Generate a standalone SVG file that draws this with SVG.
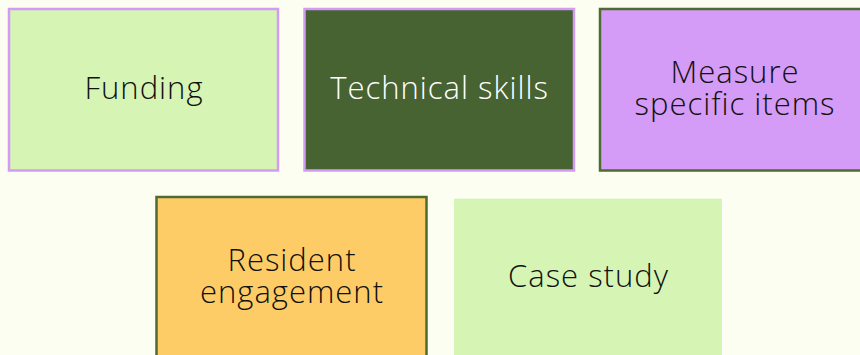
<svg xmlns="http://www.w3.org/2000/svg" width="860" height="355" viewBox="0 0 860 355">
  <style>
    .box { stroke-width: 2.5; }
    .lbl { font-family: "Open Sans", "Liberation Sans", Arial, sans-serif; font-weight: 300; font-size: 31px; letter-spacing: 1px; text-anchor: middle; fill: #111111; }
    .light { fill: #ffffff; }
  </style>
  <rect x="0" y="0" width="860" height="355" fill="#fbfef1"/>

  <g id="funding">
    <rect class="box" x="9" y="9" width="269" height="161.5" fill="#d6f5b4" stroke="#d49bf5"/>
    <text class="lbl" x="144" y="99">Funding</text>
  </g>

  <g id="technical-skills">
    <rect class="box" x="304.5" y="9" width="269.5" height="161.5" fill="#476332" stroke="#d49bf5"/>
    <text class="lbl light" x="439.5" y="99">Technical skills</text>
  </g>

  <g id="measure-specific-items">
    <rect class="box" x="600" y="9" width="270" height="161.5" fill="#d49bf7" stroke="#4e6b34"/>
    <text class="lbl"><tspan x="735" y="83">Measure</tspan><tspan x="735" y="115">specific items</tspan></text>
  </g>

  <g id="resident-engagement">
    <rect class="box" x="156.5" y="197" width="270" height="163" fill="#fecc66" stroke="#4e6b34"/>
    <text class="lbl"><tspan x="292" y="271">Resident</tspan><tspan x="292" y="303">engagement</tspan></text>
  </g>

  <g id="case-study">
    <rect x="453.5" y="198" width="269" height="163" fill="#d6f5b4" stroke="#ffffff" stroke-width="1"/>
    <text class="lbl" x="588.5" y="287">Case study</text>
  </g>

  <g id="connectors"/>
</svg>
